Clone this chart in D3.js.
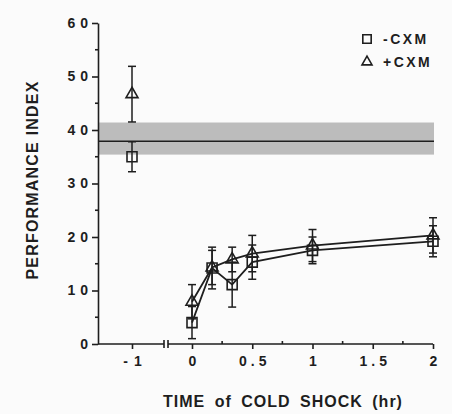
<!DOCTYPE html>
<html>
<head>
<meta charset="utf-8">
<script src="https://cdn.jsdelivr.net/npm/d3@7"></script>
<style>
  html, body { margin: 0; padding: 0; background: #fbfbfb; }
  svg { display: block; }
  svg text { font-family: "Liberation Sans", Arial, sans-serif; font-weight: bold; }
</style>
</head>
<body>
<section></section>
<script>
"use strict";

// Data
const times = [0, 1 / 6, 1 / 3, 0.5, 1, 2];
const minusCXM = [4.0, 14.2, 11.1, 15.3, 17.5, 19.2];
const minusErr = [3.0, 3.9, 4.2, 3.2, 2.5, 2.9];
const plusCXM = [7.9, 14.3, 15.8, 16.9, 18.4, 20.3];
const plusErr = [3.2, 3.2, 2.3, 3.4, 3.0, 3.3];

// control point at -1 hr
const ctrlTime = -1;
const ctrlMinus = [35.0, 2.8];
const ctrlPlus = [46.7, 5.2];

// shaded reference band
const bandRange = [35.4, 41.4];
const bandLine = 37.9;

const yTicks = [0, 10, 20, 30, 40, 50, 60];
const yMinor = [5, 15, 25, 35, 45, 55];
const xTicks = [0, 0.5, 1, 1.5, 2];
const xMinor = [0.25, 0.75, 1.25, 1.75];

const w = 452;
const h = 414;
const ink = "#1e1e1e";

const svg = d3.select("section").append("svg").attr("width", w).attr("height", h);

// scales
const yScale = d3.scaleLinear().domain([0, 60]).range([344, 23]);
const xLeft = d3.scaleLinear().domain([-2, 0]).range([98, 166]);
const xMain = d3.scaleLinear().domain([0, 2]).range([192, 433]);

//Reference band
svg.append("rect")
  .attr("x", xLeft(-2))
  .attr("y", yScale(bandRange[1]))
  .attr("width", xMain(2) - xLeft(-2) + 1)
  .attr("height", yScale(bandRange[0]) - yScale(bandRange[1]))
  .attr("fill", "#bcbcbc");

svg.append("line")
  .attr("x1", xLeft(-2)).attr("x2", xMain(2) + 1)
  .attr("y1", yScale(bandLine)).attr("y2", yScale(bandLine))
  .attr("stroke", ink).attr("stroke-width", 1.5);

//y Axis
const yAxisG = svg.append("g")
  .attr("transform", `translate(${xLeft(-2)}, 0)`)
  .call(d3.axisLeft(yScale).tickValues(yTicks).tickSize(6).tickSizeOuter(0).tickPadding(4));
yAxisG.append("g")
  .selectAll("line")
  .data(yMinor)
  .enter()
  .append("line")
  .attr("x1", -3).attr("x2", 0)
  .attr("y1", (d) => yScale(d)).attr("y2", (d) => yScale(d));

//x Axis, left piece (-1)
const xLeftG = svg.append("g")
  .attr("transform", `translate(0, ${yScale(0)})`)
  .call(d3.axisBottom(xLeft).tickValues([ctrlTime]).tickSize(5).tickPadding(7).tickFormat(() => "- 1"))
  .call((g) => g.select(".domain").remove());
xLeftG.append("line")
  .attr("x1", xLeft(-2)).attr("x2", 164);

//x Axis, main piece
const xMainG = svg.append("g")
  .attr("transform", `translate(0, ${yScale(0)})`)
  .call(d3.axisBottom(xMain).tickValues(xTicks).tickSize(5).tickPadding(7).tickFormat(d3.format("~g")))
  .call((g) => g.select(".domain").remove());
xMainG.append("line")
  .attr("x1", 168).attr("x2", xMain(2));
xMainG.append("g")
  .selectAll("line")
  .data(xMinor)
  .enter()
  .append("line")
  .attr("x1", (d) => xMain(d)).attr("x2", (d) => xMain(d))
  .attr("y1", -3).attr("y2", 0);

//axis break marks
[164, 168].forEach((bx) => {
  xMainG.append("line").attr("x1", bx).attr("x2", bx).attr("y1", -4).attr("y2", 4);
});

svg.selectAll("g line").attr("stroke", ink).attr("stroke-width", 1.6);
svg.selectAll(".domain").attr("stroke", ink).attr("stroke-width", 1.6);
svg.selectAll(".tick text")
  .style("font-size", "14px")
  .attr("fill", ink)
  .attr("letter-spacing", "4px");
yAxisG.selectAll(".tick text").attr("letter-spacing", "5px").attr("dx", 5);
xMainG.selectAll(".tick text").attr("dx", 2);
xLeftG.selectAll(".tick text").attr("letter-spacing", "1px").attr("dx", 0.5);

// series
const series = [
  { name: "-CXM", values: minusCXM, err: minusErr, ctrl: ctrlMinus, symbol: d3.symbolSquare, size: 100 },
  { name: "+CXM", values: plusCXM, err: plusErr, ctrl: ctrlPlus, symbol: d3.symbolTriangle, size: 62 },
];

const line = d3.line()
  .x((d) => xMain(d[0]))
  .y((d) => yScale(d[1]));

series.forEach((s) => {
  const pts = times.map((t, i) => ({ x: xMain(t), v: s.values[i], e: s.err[i] }));
  pts.push({ x: xLeft(ctrlTime), v: s.ctrl[0], e: s.ctrl[1] });

  const g = svg.append("g");

  g.append("path")
    .datum(times.map((t, i) => [t, s.values[i]]))
    .attr("d", line)
    .attr("fill", "none")
    .attr("stroke", ink)
    .attr("stroke-width", 1.8);

  const eb = g.selectAll(".err").data(pts).enter().append("g").attr("class", "err");
  eb.append("line")
    .attr("x1", (d) => d.x).attr("x2", (d) => d.x)
    .attr("y1", (d) => yScale(d.v - d.e)).attr("y2", (d) => yScale(d.v + d.e));
  eb.append("line")
    .attr("x1", (d) => d.x - 4).attr("x2", (d) => d.x + 4)
    .attr("y1", (d) => yScale(d.v + d.e)).attr("y2", (d) => yScale(d.v + d.e));
  eb.append("line")
    .attr("x1", (d) => d.x - 4).attr("x2", (d) => d.x + 4)
    .attr("y1", (d) => yScale(d.v - d.e)).attr("y2", (d) => yScale(d.v - d.e));
  eb.selectAll("line").attr("stroke", ink).attr("stroke-width", 1.5);

  g.selectAll(".pt")
    .data(pts)
    .enter()
    .append("path")
    .attr("class", "pt")
    .attr("transform", (d) => `translate(${d.x}, ${yScale(d.v)})`)
    .attr("d", d3.symbol().type(s.symbol).size(s.size))
    .attr("fill", "none")
    .attr("stroke", ink)
    .attr("stroke-width", 1.6);
});

//Legend
const legend = svg.append("g").attr("transform", "translate(367, 39)");
series.forEach((s, i) => {
  const row = legend.append("g").attr("transform", `translate(0, ${i * 23})`);
  row.append("path")
    .attr("d", d3.symbol().type(s.symbol).size(s.size * 0.7))
    .attr("fill", "none")
    .attr("stroke", ink)
    .attr("stroke-width", 1.6);
  row.append("text")
    .attr("x", 16)
    .attr("y", 5)
    .attr("font-size", 14)
    .attr("letter-spacing", "2.5px")
    .attr("fill", ink)
    .text(s.name);
});

//Axis titles
svg.append("text")
  .attr("transform", "translate(38, 180) rotate(-90)")
  .attr("text-anchor", "middle")
  .attr("font-size", 16)
  .attr("letter-spacing", "1.2px")
  .attr("fill", ink)
  .text("PERFORMANCE INDEX");

svg.append("text")
  .attr("x", 283)
  .attr("y", 407)
  .attr("text-anchor", "middle")
  .attr("font-size", 16)
  .attr("letter-spacing", "1px")
  .attr("word-spacing", "4px")
  .attr("fill", ink)
  .text("TIME of COLD SHOCK (hr)");
</script>
</body>
</html>
